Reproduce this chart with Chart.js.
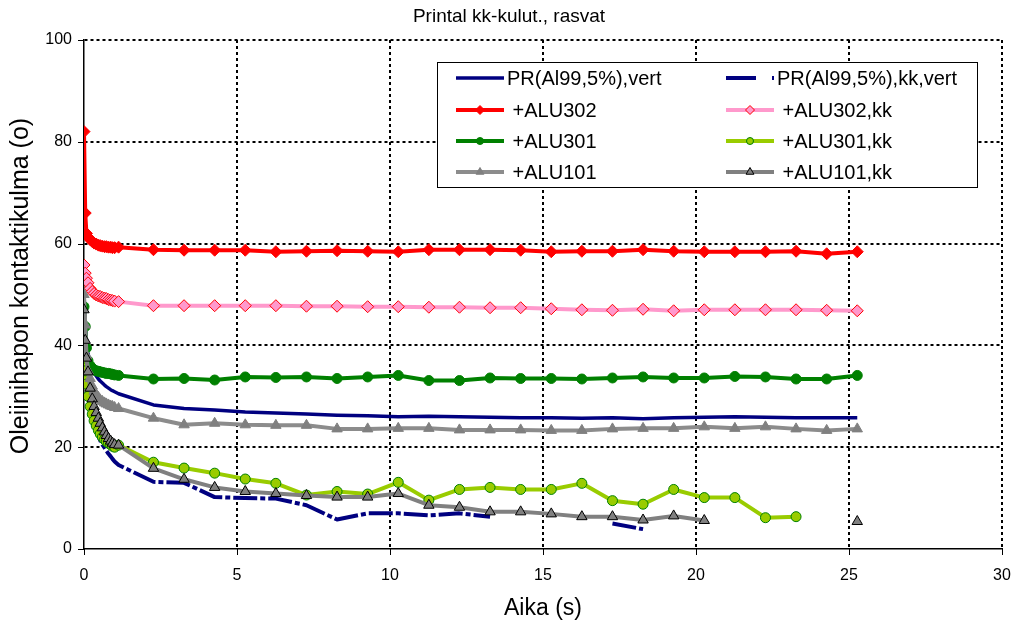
<!DOCTYPE html>
<html>
<head>
<meta charset="utf-8">
<script src="https://cdn.jsdelivr.net/npm/chart.js@4.4.1/dist/chart.umd.min.js"></script>
<style>
  html, body { margin: 0; padding: 0; background: #fff; }
</style>
</head>
<body>
<canvas id="kulma" width="1018" height="626"></canvas>
<script>
// Printal kk-kulut., rasvat - kontaktikulma ajan funktiona

const otsikko = 'Printal kk-kulut., rasvat';
const xOtsikko = 'Aika (s)';
const yOtsikko = 'Oleiinihapon kontaktikulma (o)';

// mittausajat (s)
const aika = [0, 0.04, 0.08, 0.13, 0.2, 0.27, 0.33, 0.4, 0.47, 0.53, 0.6, 0.67, 0.73, 0.8, 0.87, 0.93, 1.0, 1.13,
  2.27, 3.27, 4.27, 5.27, 6.27, 7.27, 8.27, 9.27, 10.27, 11.27, 12.27, 13.27, 14.27, 15.27,
  16.27, 17.27, 18.27, 19.27, 20.27, 21.27, 22.27, 23.27, 24.27, 25.27];

const xTicks = [0, 5, 10, 15, 20, 25, 30];
const yTicks = [0, 20, 40, 60, 80, 100];

// kulmat (o)
const prVert = [50, 45, 41, 38.5, 36.5, 35.2, 34.5, 34, 33.4, 33, 32.6, 32.2, 31.9, 31.6, 31.3, 31.1, 30.9, 30.5,
  28.3, 27.6, 27.3, 26.9, 26.7, 26.5, 26.3, 26.2, 26.0, 26.1, 26.0, 25.9, 25.8, 25.8,
  25.7, 25.8, 25.6, 25.8, 25.9, 26.0, 25.9, 25.8, 25.8, 25.8];
const prKkVert = [46, 40, 35, 31, 28, 26, 24.5, 23.2, 22.2, 21.3, 20.5, 19.9, 19.3, 18.7, 18.2, 17.7, 17.2, 16.5,
  13.2, 13.0, 10.2, 10.0, 9.9, 8.6, 5.8, 7.0, 7.0, 6.6, 7.0, 6.35, null, null,
  null, 5.0, 3.9, null, null, null, null, null, null, null];
const alu302 = [82, 66, 62, 61.3, 60.8, 60.4, 60.1, 59.9, 59.7, 59.6, 59.5, 59.4, 59.4, 59.3, 59.3, 59.2, 59.2, 59.3,
  58.8, 58.7, 58.7, 58.7, 58.4, 58.5, 58.6, 58.5, 58.4, 58.8, 58.8, 58.8, 58.7, 58.4,
  58.5, 58.5, 58.8, 58.5, 58.4, 58.4, 58.4, 58.5, 58.0, 58.4];
const alu302Kk = [55.8, 54.2, 53.2, 52.3, 51.2, 50.6, 50.2, 49.9, 49.7, 49.6, 49.4, 49.3, 49.2, 49.0, 48.9, 48.8, 48.7, 48.6,
  47.8, 47.8, 47.8, 47.8, 47.8, 47.7, 47.7, 47.6, 47.6, 47.5, 47.5, 47.4, 47.4, 47.2,
  47.0, 46.9, 47.1, 46.8, 47.0, 47.0, 47.0, 47.0, 46.9, 46.8];
const alu301 = [47.6, 43.7, 39.5, 37, 36, 35.5, 35.2, 35, 34.9, 34.8, 34.7, 34.6, 34.5, 34.5, 34.4, 34.3, 34.2, 34.1,
  33.4, 33.5, 33.2, 33.8, 33.7, 33.8, 33.5, 33.8, 34.1, 33.1, 33.1, 33.6, 33.5, 33.5,
  33.4, 33.6, 33.8, 33.6, 33.6, 33.9, 33.8, 33.4, 33.4, 34.1];
const alu301Kk = [37.5, 35, 32.4, 30, 28, 26.5, 25.2, 24.2, 23.3, 22.6, 22, 21.5, 21.1, 20.8, 20.5, 20.2, 20.0, 20.4,
  17.05, 15.9, 14.9, 13.75, 12.9, 10.6, 11.3, 10.8, 13.1, 9.6, 11.7, 12.1, 11.7, 11.7,
  12.9, 9.5, 8.8, 11.7, 10.1, 10.1, 6.15, 6.35, null, null];
const alu101 = [50, 44, 38, 35, 33.5, 32, 31, 30.3, 29.8, 29.3, 29, 28.7, 28.5, 28.3, 28.1, 28, 27.8, 27.6,
  25.7, 24.4, 24.7, 24.4, 24.3, 24.3, 23.6, 23.6, 23.7, 23.7, 23.4, 23.4, 23.4, 23.3,
  23.3, 23.6, 23.7, 23.7, 24.0, 23.7, 24.0, 23.6, 23.3, 23.6];
const alu101Kk = [47, 41, 37.5, 34.8, 31.6, 29.5, 28, 26.8, 25.7, 24.7, 23.8, 23, 22.3, 21.7, 21.2, 20.8, 20.5, 20.4,
  15.85, 13.7, 12.1, 11.3, 10.9, 10.5, 10.2, 10.2, 10.9, 8.6, 8.2, 7.3, 7.3, 6.9,
  6.35, 6.35, 5.7, 6.5, 5.6, null, null, null, null, 5.4];

const FONTTI = '"Liberation Sans", Arial, sans-serif';
Chart.defaults.font.family = FONTTI;
Chart.defaults.color = '#000';

const pisteet = arvot => aika.map((x, i) => ({ x, y: arvot[i] }));

// sarjat samassa järjestyksessä kuin selitteessä (rivi kerrallaan)
const sarjat = [
  { label: 'PR(Al99,5%),vert', data: pisteet(prVert), borderColor: '#000080', borderWidth: 3.5, pointRadius: 0 },
  { label: 'PR(Al99,5%),kk,vert', data: pisteet(prKkVert), borderColor: '#000080', borderWidth: 4,
    borderDash: [24, 3, 5, 3], pointRadius: 0 },
  { label: ' +ALU302', data: pisteet(alu302), borderColor: '#FF0000', borderWidth: 4,
    pointStyle: 'rectRot', pointRadius: 6, pointBackgroundColor: '#FF0000', pointBorderColor: '#FF0000', pointBorderWidth: 1 },
  { label: ' +ALU302,kk', data: pisteet(alu302Kk), borderColor: '#FF99CC', borderWidth: 4,
    pointStyle: 'rectRot', pointRadius: 6, pointBackgroundColor: '#FF99CC', pointBorderColor: '#FF0000', pointBorderWidth: 1 },
  { label: ' +ALU301', data: pisteet(alu301), borderColor: '#008000', borderWidth: 4,
    pointStyle: 'circle', pointRadius: 5, pointBackgroundColor: '#008000', pointBorderColor: '#008000', pointBorderWidth: 1 },
  { label: ' +ALU301,kk', data: pisteet(alu301Kk), borderColor: '#99CC00', borderWidth: 4,
    pointStyle: 'circle', pointRadius: 5, pointBackgroundColor: '#99CC00', pointBorderColor: '#008000', pointBorderWidth: 1 },
  { label: ' +ALU101', data: pisteet(alu101), borderColor: '#8C8C8C', borderWidth: 4,
    pointStyle: 'triangle', pointRadius: 6, pointBackgroundColor: '#808080', pointBorderColor: '#808080', pointBorderWidth: 1 },
  { label: ' +ALU101,kk', data: pisteet(alu101Kk), borderColor: '#808080', borderWidth: 4,
    pointStyle: 'triangle', pointRadius: 6, pointBackgroundColor: '#808080', pointBorderColor: '#000000', pointBorderWidth: 1 }
].map((s, i) => ({ ...s, order: 8 - i, tension: 0, fill: false, spanGaps: false,
  pointHoverRadius: s.pointRadius, backgroundColor: s.borderColor }));

// otsikot, asteikkoviivat ja selite piirretään itse
const lisaPiirto = {
  id: 'lisaPiirto',
  afterDraw(chart) {
    const { ctx, chartArea: ca, scales } = chart;
    ctx.save();

    // pienet asteikkoviivat akselien ulkopuolelle
    ctx.strokeStyle = '#000';
    ctx.lineWidth = 1;
    ctx.setLineDash([]);
    scales.x.ticks.forEach(t => {
      const px = Math.round(scales.x.getPixelForValue(t.value)) + 0.5;
      ctx.beginPath(); ctx.moveTo(px, ca.bottom); ctx.lineTo(px, ca.bottom + 6); ctx.stroke();
    });
    scales.y.ticks.forEach(t => {
      const py = Math.round(scales.y.getPixelForValue(t.value)) + 0.5;
      ctx.beginPath(); ctx.moveTo(ca.left - 6, py); ctx.lineTo(ca.left, py); ctx.stroke();
    });

    // otsikot
    ctx.fillStyle = '#000';
    ctx.textAlign = 'center';
    ctx.textBaseline = 'middle';
    ctx.font = '19px ' + FONTTI;
    ctx.fillText(otsikko, 509, 17);
    ctx.font = '23px ' + FONTTI;
    ctx.fillText(xOtsikko, (ca.left + ca.right) / 2, 609);
    ctx.save();
    ctx.font = '25px ' + FONTTI;
    ctx.translate(21, 286);
    ctx.rotate(-Math.PI / 2);
    ctx.fillText(yOtsikko, 0, 0);
    ctx.restore();

    // selite
    const bx = 437, by = 62, bw = 540, bh = 125;
    ctx.fillStyle = '#fff';
    ctx.fillRect(bx, by, bw, bh);
    ctx.strokeStyle = '#000';
    ctx.lineWidth = 1;
    ctx.strokeRect(bx + 0.5, by + 0.5, bw, bh);
    const riviY = [78, 110, 141, 172];
    const sarakeX = [456, 726];
    ctx.font = '20px ' + FONTTI;
    ctx.textAlign = 'left';
    chart.data.datasets.forEach((ds, i) => {
      const x0 = sarakeX[i % 2];
      const y0 = riviY[Math.floor(i / 2)];
      ctx.save();
      ctx.strokeStyle = ds.borderColor;
      ctx.lineWidth = ds.borderWidth;
      ctx.setLineDash(ds.borderDash ? [30, 16, 3, 16] : []);
      ctx.beginPath(); ctx.moveTo(x0, y0); ctx.lineTo(x0 + 48, y0); ctx.stroke();
      ctx.setLineDash([]);
      if (ds.pointRadius > 0) {
        ctx.fillStyle = ds.pointBackgroundColor;
        ctx.strokeStyle = ds.pointBorderColor;
        ctx.lineWidth = ds.pointBorderWidth;
        Chart.helpers.drawPoint(ctx, { pointStyle: ds.pointStyle, radius: ds.pointRadius - 1.5,
          rotation: 0, borderWidth: ds.pointBorderWidth }, x0 + 24, y0);
      }
      ctx.restore();
      ctx.fillStyle = '#000';
      ctx.fillText(ds.label, x0 + 51, y0 + 1);
    });

    ctx.restore();
  }
};

const gridVari = c => (c.tick && c.tick.value === 0) ? 'rgba(0,0,0,0)' : '#000';

new Chart(document.getElementById('kulma').getContext('2d'), {
  type: 'line',
  data: { datasets: sarjat },
  options: {
    responsive: false,
    animation: false,
    layout: { padding: { left: 0, top: 40, right: 16, bottom: 0 } },
    plugins: {
      legend: { display: false },
      title: { display: false },
      tooltip: { enabled: false }
    },
    elements: { line: { borderCapStyle: 'butt', borderJoinStyle: 'round' } },
    scales: {
      x: {
        type: 'linear',
        min: 0,
        max: 30,
        afterBuildTicks: s => { s.ticks = xTicks.map(v => ({ value: v })); },
        afterFit: s => { s.height = 77; s.paddingLeft = 0; s.paddingRight = 0; },
        ticks: { font: { size: 16 }, padding: 17, maxRotation: 0 },
        grid: { color: gridVari, lineWidth: 2, drawTicks: false },
        border: { display: true, color: '#000', width: 1.5, dash: [3, 3] }
      },
      y: {
        min: 0,
        max: 100,
        afterBuildTicks: s => { s.ticks = yTicks.map(v => ({ value: v })); },
        afterFit: s => { s.width = 84; s.paddingTop = 0; s.paddingBottom = 0; },
        ticks: { font: { size: 16 }, padding: 12 },
        grid: { color: gridVari, lineWidth: 2, drawTicks: false },
        border: { display: true, color: '#000', width: 1.5, dash: [3, 3] }
      }
    }
  },
  plugins: [lisaPiirto]
});
</script>
</body>
</html>
